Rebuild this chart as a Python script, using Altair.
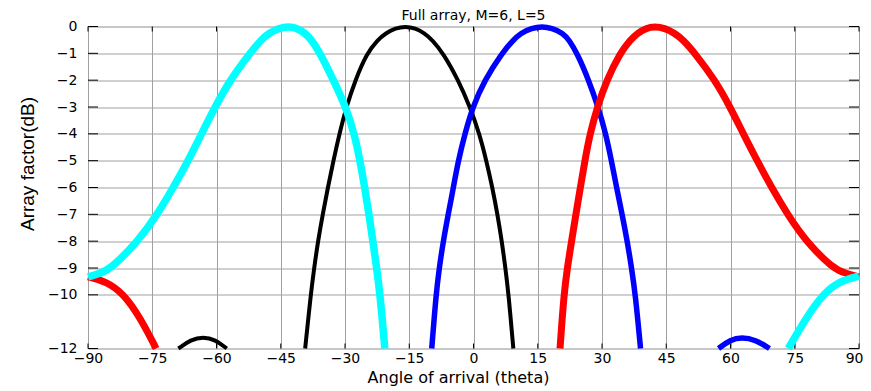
import altair as alt
import pandas as pd

TITLE = "Full array, M=6, L=5"
X_LABEL = "Angle of arrival (theta)"
Y_LABEL = "Array factor(dB)"
X_TICKS = [-90, -75, -60, -45, -30, -15, 0, 15, 30, 45, 60, 75, 90]
Y_TICKS = [0, -1, -2, -3, -4, -5, -6, -7, -8, -9, -10, -12]

# ---- values (angle in degrees, level in dB) ----
BLACK_SIDE_X = [-68.9, -66.0, -63.1, -60.3, -57.6]
BLACK_SIDE_Y = [-12.0, -11.67, -11.56, -11.67, -12.0]
BLACK_MAIN_X = [-39.3, -38.0, -37.2, -36.3, -35.2, -34.0, -32.7, -31.3, -29.7, -27.6, -24.9, -22.4, -20.5, -18.2,
                -15.9, -13.6, -11.5, -9.6, -7.05, -3.55, -0.82, 1.4, 3.0, 4.4, 5.6, 6.6, 7.45, 8.2, 9.3]
BLACK_MAIN_Y = [-12, -10, -9, -8, -7, -6, -5, -4, -3, -2, -1, -0.5, -0.25, -0.06,
                0, -0.06, -0.25, -0.5, -1, -2, -3, -4, -5, -6, -7, -8, -9, -10, -12]

BLUE_MAIN_X = [-9.75, -8.75, -8.0, -7.05, -5.9, -4.7, -3.55, -2.0, -0.2, 2.6, 6.6, 9.3, 11.0, 13.6,
               16.0, 18.3, 20.9, 22.3, 24.2, 26.9, 29.1, 30.9, 32.2, 33.4, 34.7, 35.9, 36.9, 37.8, 39.0]
BLUE_MAIN_Y = [-12, -10, -9, -8, -7, -6, -5, -4, -3, -2, -1, -0.5, -0.25, -0.06,
               0, -0.06, -0.25, -0.5, -1, -2, -3, -4, -5, -6, -7, -8, -9, -10, -12]
BLUE_SIDE_X = [57.2, 60.0, 62.6, 65.8, 69.1]
BLUE_SIDE_Y = [-12.0, -11.67, -11.58, -11.67, -12.0]

RED_SIDE_X = [-90.0, -85.6, -81.8, -77.9, -74.1]
RED_SIDE_Y = [-9.33, -9.51, -9.95, -10.82, -12.0]
RED_MAIN_X = [20.2, 21.1, 21.9, 22.9, 23.9, 24.95, 26.0, 27.2, 28.9, 31.1, 34.2, 36.6, 38.3, 40.3,
              42.3, 44.6, 47.0, 48.95, 51.7, 56.4, 59.9, 63.0, 66.2, 69.6, 73.3, 77.6, 83.8, 86.8, 90.0]
RED_MAIN_Y = [-12, -10, -9, -8, -7, -6, -5, -4, -3, -2, -1, -0.5, -0.25, -0.06,
              0, -0.06, -0.25, -0.5, -1, -2, -3, -4, -5, -6, -7, -8, -9.0, -9.2, -9.33]

CYAN_MAIN_X = [-90.0, -87.0, -84.5, -78.3, -73.8, -70.1, -66.6, -63.5, -60.35, -56.85, -52.2, -49.6, -47.75, -45.5,
               -43.1, -41.2, -39.3, -37.8, -35.8, -32.7, -29.8, -27.8, -26.5, -25.4, -24.4, -23.5, -22.6, -21.8, -20.7]
CYAN_MAIN_Y = [-9.33, -9.2, -9.0, -8, -7, -6, -5, -4, -3, -2, -1, -0.5, -0.25, -0.06,
               0, -0.06, -0.25, -0.5, -1, -2, -3, -4, -5, -6, -7, -8, -9, -10, -12]
CYAN_SIDE_X = [73.5, 77.8, 81.7, 85.6, 90.0]
CYAN_SIDE_Y = [-12.0, -10.82, -9.95, -9.48, -9.3]

SERIES = [
    ("black", "#000000", 4.0, [(BLACK_SIDE_X, BLACK_SIDE_Y), (BLACK_MAIN_X, BLACK_MAIN_Y)]),
    ("blue", "#0000FF", 5.5, [(BLUE_MAIN_X, BLUE_MAIN_Y), (BLUE_SIDE_X, BLUE_SIDE_Y)]),
    ("red", "#FF0000", 7.0, [(RED_SIDE_X, RED_SIDE_Y), (RED_MAIN_X, RED_MAIN_Y)]),
    ("cyan", "#00FFFF", 7.5, [(CYAN_MAIN_X, CYAN_MAIN_Y), (CYAN_SIDE_X, CYAN_SIDE_Y)]),
]

W, H = 771, 322
FONT = "DejaVu Sans"

x_scale = alt.Scale(domain=[-90, 90], nice=False, zero=False)
y_scale = alt.Scale(domain=[-12, 0], nice=False, zero=False)

x_axis = alt.Axis(values=X_TICKS, title=X_LABEL, grid=True, ticks=False, domain=False,
                  labelFlush=False, labelOverlap=False, labelPadding=3,
                  labelAlign={"condition": {"test": "datum.value == 90", "value": "right"}, "value": "center"},
                  labelOffset={"condition": {"test": "datum.value == 90", "value": 4}, "value": 0},
                  labelFont=FONT, labelFontSize=14, labelColor="black",
                  titleFont=FONT, titleFontSize=16, titleFontWeight="normal", titleColor="black",
                  titleX=370, titleY=34, titleAlign="center", titleBaseline="alphabetic",
                  gridColor="#a0a0a0", gridWidth=1)
y_axis = alt.Axis(values=Y_TICKS, title=Y_LABEL, grid=True, ticks=False, domain=False,
                  labelFlush=False, labelOverlap=False, labelPadding=11,
                  labelFont=FONT, labelFontSize=14, labelColor="black",
                  titleFont="Liberation Sans", titleFontSize=19, titleFontWeight="normal",
                  titleColor="black", titleX=-55, titleY=137, titleAlign="center",
                  titleBaseline="alphabetic", titleAngle=270,
                  gridColor="#a0a0a0", gridWidth=1)

X_ENC = alt.X("x:Q", scale=x_scale, axis=x_axis)
Y_ENC = alt.Y("y:Q", scale=y_scale, axis=y_axis)

xt = pd.DataFrame({"x": X_TICKS})
yt = pd.DataFrame({"y": Y_TICKS})

left_ticks = alt.Chart(yt).mark_rule(color="black", strokeWidth=1).encode(
    y=Y_ENC, x=alt.value(0), x2=alt.value(10))
right_ticks = alt.Chart(yt).mark_rule(color="black", strokeWidth=1).encode(
    y=Y_ENC, x=alt.value(W - 10), x2=alt.value(W))
bottom_ticks = alt.Chart(xt).mark_rule(color="black", strokeWidth=1).encode(
    x=X_ENC, y=alt.value(H - 5), y2=alt.value(H))
top_ticks = alt.Chart(xt).mark_rule(color="black", strokeWidth=1).encode(
    x=X_ENC, y=alt.value(0), y2=alt.value(5))

layers = [left_ticks, right_ticks, bottom_ticks, top_ticks]
for name, color, width, segs in SERIES:
    rows = []
    for si, (xs, ys) in enumerate(segs):
        for i, (xv, yv) in enumerate(zip(xs, ys)):
            rows.append({"seg": f"{name}{si}", "i": i, "x": xv, "y": yv})
    df = pd.DataFrame(rows)
    layers.append(
        alt.Chart(df).mark_line(color=color, strokeWidth=width, interpolate="basis",
                                strokeCap="butt", strokeJoin="round").encode(
            x=X_ENC, y=Y_ENC, detail="seg:N", order="i:Q",
        )
    )

chart = alt.layer(*layers).properties(
    width=W, height=H,
    title=alt.TitleParams(TITLE, font=FONT, fontSize=14, fontWeight="normal", color="black",
                          anchor="middle", offset=1, dy=15, baseline="alphabetic", frame="group"),
    autosize=alt.AutoSizeParams(type="none"),
    padding={"left": 80, "top": 18.5, "right": 4, "bottom": 40},
).configure_view(stroke="black", strokeWidth=1).configure(background="white")

chart.save("out.html", embed_options={"renderer": "svg", "actions": False})
